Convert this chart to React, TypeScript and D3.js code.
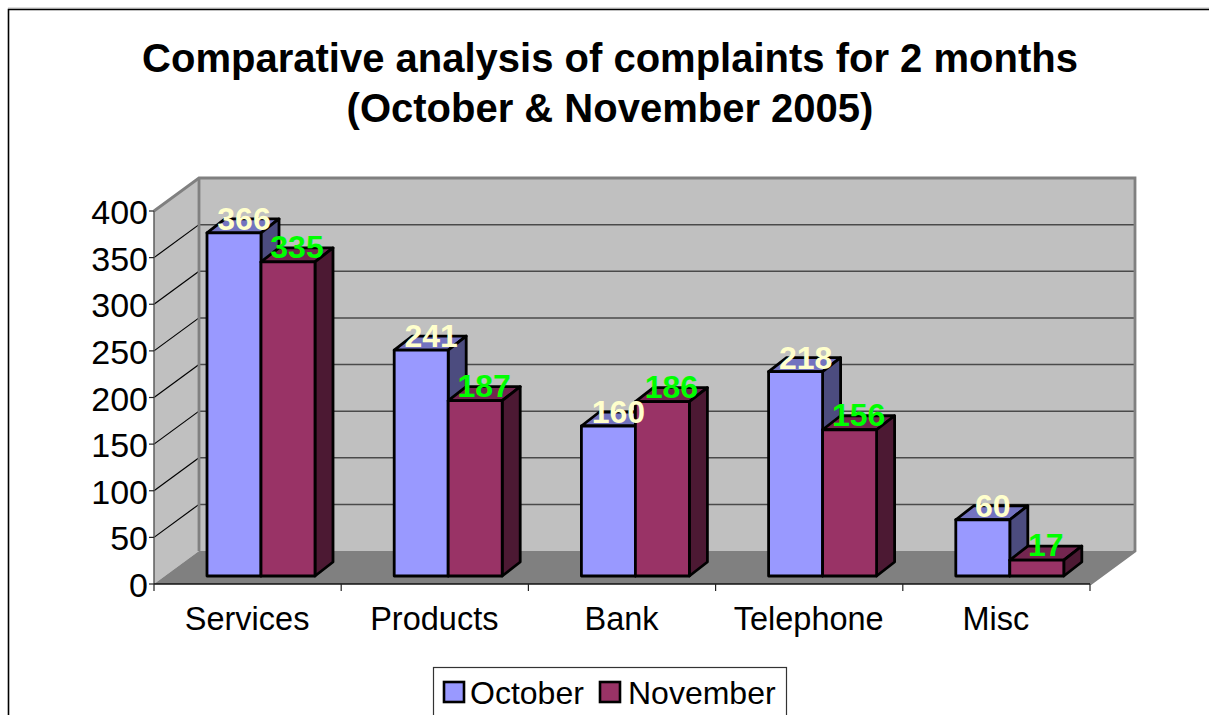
import React from "react";
import * as d3 from "d3";

const categories = ["Services", "Products", "Bank", "Telephone", "Misc"];
const october = [366, 241, 160, 218, 60];
const november = [335, 187, 186, 156, 17];
const yTicks = [0, 50, 100, 150, 200, 250, 300, 350, 400];
const titleLines = ["Comparative analysis of complaints for 2 months", "(October & November 2005)"];
const seriesNames = ["October", "November"];

const FONT = "'Liberation Sans', Arial, sans-serif";
const L = 154, R = 1090, Y0 = 584, Y400 = 211;
const DX = 45, DY = 33;
const BASE = 576, BW = 54, BDX = 18, BDY = 14, BAR_OFF = 53;

const xBand = d3.scaleBand<string>().domain(categories).range([L, R]);
const yAxis = d3.scaleLinear().domain([0, 400]).range([Y0, Y400]);
const yBar = d3.scaleLinear().domain([0, 400]).range([BASE, BASE - 375]);

const colors = [
  { front: "#9999FF", top: "#7373BF", side: "#4C4C7F", label: "#FFFFCC" },
  { front: "#993366", top: "#732650", side: "#4C1933", label: "#00FF00" },
];

const poly = (pts: number[][]) => pts.map((p) => p.join(",")).join(" ");

function Bar({ x, v, c }: { x: number; v: number; c: (typeof colors)[number] }) {
  const y = yBar(v);
  const s = { stroke: "#000", strokeWidth: 2.8, strokeLinejoin: "round" as const };
  return (
    <g>
      <polygon points={poly([[x, y], [x + BW, y], [x + BW + BDX, y - BDY], [x + BDX, y - BDY]])} fill={c.top} {...s} />
      <polygon points={poly([[x + BW, y], [x + BW + BDX, y - BDY], [x + BW + BDX, BASE - BDY], [x + BW, BASE]])} fill={c.side} {...s} />
      <rect x={x} y={y} width={BW} height={BASE - y} fill={c.front} {...s} />
    </g>
  );
}

export default function App() {
  return (
    <svg width={1209} height={715} style={{ position: "absolute", left: 0, top: 0 }} fontFamily={FONT}>
      <rect width={1209} height={715} fill="#fff" />
      <path d="M8.5,715V9.5H1209" fill="none" stroke="#000" strokeWidth={1.6} />
      <path d="M8,8.2H1209" fill="none" stroke="#999" strokeWidth={1} />

      {titleLines.map((t, i) => (
        <text key={t} x={610} y={72 + i * 50} textAnchor="middle" fontSize={40} fontWeight="bold" fill="#000">{t}</text>
      ))}

      {/* walls */}
      <polygon points={poly([[L + DX, Y400 - DY], [R + DX, Y400 - DY], [R + DX, Y0 - DY], [L + DX, Y0 - DY]])} fill="#C0C0C0" />
      <polygon points={poly([[L, Y400], [L + DX, Y400 - DY], [L + DX, Y0 - DY], [L, Y0]])} fill="#C0C0C0" />
      <polygon points={poly([[L, Y0], [L + DX, Y0 - DY], [R + DX, Y0 - DY], [R, Y0]])} fill="#808080" />

      {yTicks.slice(1, -1).map((t) => (
        <g key={t}>
          <line x1={L} y1={yAxis(t)} x2={L + DX} y2={yAxis(t) - DY} stroke="#000" strokeWidth={1.2} />
          <line x1={L + DX} y1={yAxis(t) - DY} x2={R + DX} y2={yAxis(t) - DY} stroke="#4a4a4a" strokeWidth={1.5} />
        </g>
      ))}
      <path d={`M${L},${Y400}L${L + DX},${Y400 - DY}H${R + DX}V${Y0 - DY}L${R},${Y0}`} fill="none" stroke="#808080" strokeWidth={2.8} />
      <line x1={L + DX} y1={Y400 - DY} x2={L + DX} y2={Y0 - DY} stroke="#808080" strokeWidth={2.8} />

      {/* axes */}
      <line x1={L} y1={Y400} x2={L} y2={Y0} stroke="#555" strokeWidth={1.4} />
      <line x1={L} y1={Y0} x2={R} y2={Y0} stroke="#111" strokeWidth={1.5} />
      {yTicks.map((t) => (
        <g key={t}>
          <line x1={L - 5} y1={yAxis(t)} x2={L} y2={yAxis(t)} stroke="#222" strokeWidth={1.2} />
          <text x={148} y={yAxis(t) + 13} textAnchor="end" fontSize={34} fill="#000">{t}</text>
        </g>
      ))}
      {[...categories.map((c) => xBand(c)!), R].map((x, i) => (
        <line key={i} x1={x} y1={Y0} x2={x} y2={Y0 + 7} stroke="#222" strokeWidth={1.2} />
      ))}
      {categories.map((c) => (
        <text key={c} x={xBand(c)! + xBand.bandwidth() / 2 - 0.5} y={630} textAnchor="middle" fontSize={32.5} fill="#000">{c}</text>
      ))}

      {/* bars */}
      {categories.map((c, i) => {
        const x0 = xBand(c)! + BAR_OFF;
        return (
          <g key={c}>
            <Bar x={x0} v={october[i]} c={colors[0]} />
            <Bar x={x0 + BW} v={november[i]} c={colors[1]} />
          </g>
        );
      })}
      {categories.map((c, i) => {
        const x0 = xBand(c)! + BAR_OFF;
        return (
          <g key={c} fontSize={32} fontWeight="bold" textAnchor="middle">
            <text x={x0 + BW / 2 + 10} y={yBar(october[i]) - 3} fill={colors[0].label}>{october[i]}</text>
            <text x={x0 + BW * 1.5 + 9} y={yBar(november[i]) - 4} fill={colors[1].label}>{november[i]}</text>
          </g>
        );
      })}

      {/* legend */}
      <rect x={433.5} y={667.5} width={353} height={60} fill="#fff" stroke="#333" strokeWidth={1.2} />
      {seriesNames.map((n, i) => {
        const sx = [444, 600][i], tx = [470, 628][i];
        return (
          <g key={n}>
            <rect x={sx} y={682} width={20} height={20} fill={colors[i].front} stroke="#000" strokeWidth={2.6} />
            <text x={tx} y={704} fontSize={32} fill="#000">{n}</text>
          </g>
        );
      })}
    </svg>
  );
}
